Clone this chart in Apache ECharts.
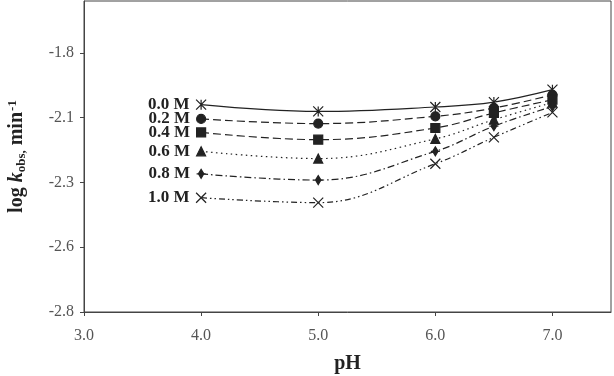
<!DOCTYPE html>
<html lang="en">
<head>
<meta charset="UTF-8">
<title>log kobs vs pH</title>
<script src="https://cdn.jsdelivr.net/npm/echarts@6/dist/echarts.min.js"></script>
<style>body{margin:0;background:#fff;}</style>
</head>
<body>
<div id="main" style="width:614px;height:376px;"></div>
<script type="text/javascript">
    // x positions (pH)
    var phValues = [4.0, 5.0, 6.0, 6.5, 7.0];
    // concentrations (series names)
    var seriesNames = ['0.0 M', '0.2 M', '0.4 M', '0.6 M', '0.8 M', '1.0 M'];
    // log kobs
    var m00 = [-2.000, -2.026, -2.009, -1.990, -1.942];
    var m02 = [-2.055, -2.073, -2.045, -2.013, -1.962];
    var m04 = [-2.107, -2.135, -2.090, -2.032, -1.981];
    var m06 = [-2.180, -2.208, -2.132, -2.058, -1.992];
    var m08 = [-2.267, -2.291, -2.180, -2.083, -2.007];
    var m10 = [-2.359, -2.378, -2.228, -2.126, -2.030];
    // tick values & labels
    var xTickValues = [3, 4, 5, 6, 7];
    var yTickValues = [-2.8, -2.55, -2.3, -2.05, -1.8];
    var yTickLabels = ['-2.8', '-2.6', '-2.3', '-2.1', '-1.8'];

    var allData = [m00, m02, m04, m06, m08, m10];
    var symbols = [
        'path://M0,0L10,10M10,0L0,10M5,0L5,10',
        'circle',
        'rect',
        'triangle',
        'path://M5,0L8,5L5,10L2,5ZM0,5L10,5',
        'path://M0,0L10,10M10,0L0,10'
    ];
    var symSizes = [10, 9, 9, 9, 9, 10];
    var lineTypes = ['solid', [8, 4], [8, 4], [1.5, 3.5], [7, 3, 1.5, 3], [6, 3, 1.5, 3, 1.5, 3]];

    var font = 'Liberation Serif';
    var myChart = echarts.init(document.getElementById('main'));

    var series = [];
    for (var i = 0; i < seriesNames.length; i++) {
        var pts = [];
        for (var j = 0; j < phValues.length; j++) {
            pts.push([phValues[j], allData[i][j]]);
        }
        series.push({
            name: seriesNames[i],
            type: 'line',
            data: pts,
            smooth: 0.4,
            symbol: symbols[i],
            symbolSize: symSizes[i],
            showAllSymbol: true,
            lineStyle: {color: '#222', width: 1.2, type: lineTypes[i]},
            itemStyle: {color: '#222', borderColor: '#222', borderWidth: 1.2},
            label: {
                show: true,
                position: 'left',
                distance: 6,
                fontFamily: font,
                fontWeight: 'bold',
                fontSize: 17,
                color: '#222',
                formatter: function (p) {
                    return p.dataIndex === 0 ? p.seriesName : '';
                }
            },
            animation: false
        });
    }

    myChart.setOption({
        backgroundColor: '#fff',
        grid: {left: 84, right: 3, top: 1, bottom: 64, outerBoundsMode: 'none', containLabel: false,
            show: true, borderColor: '#444', borderWidth: 1},
        xAxis: {
            type: 'value',
            min: 3.0,
            max: 7.5,
            name: 'pH',
            nameLocation: 'middle',
            nameGap: 42,
            nameTextStyle: {fontFamily: font, fontWeight: 'bold', fontSize: 20, color: '#222'},
            axisLine: {show: true, lineStyle: {color: '#444'}},
            axisTick: {show: true, inside: false, length: 4, customValues: xTickValues, lineStyle: {color: '#444'}},
            axisLabel: {
                customValues: xTickValues,
                fontFamily: font, fontSize: 16, color: '#555', margin: 16,
                formatter: function (v) { return v.toFixed(1); }
            },
            splitLine: {show: false}
        },
        yAxis: {
            type: 'value',
            min: -2.8,
            max: -1.6,
            name: '{b|log }{bi|k}{sub|obs,}{b| min}{sup|-1}',
            nameLocation: 'middle',
            nameGap: 56,
            nameRotate: 90,
            nameTextStyle: {
                color: '#222',
                rich: {
                    b: {fontFamily: font, fontWeight: 'bold', fontSize: 20, color: '#222'},
                    bi: {fontFamily: font, fontWeight: 'bold', fontStyle: 'italic', fontSize: 20, color: '#222'},
                    sub: {fontFamily: font, fontWeight: 'bold', fontSize: 13, color: '#222', verticalAlign: 'bottom', padding: [7, 0, 0, 0]},
                    sup: {fontFamily: font, fontWeight: 'bold', fontSize: 13, color: '#222', verticalAlign: 'top', padding: [0, 0, 9, 1]}
                }
            },
            axisLine: {show: true, lineStyle: {color: '#444'}},
            axisTick: {show: true, inside: false, length: 4, customValues: yTickValues, lineStyle: {color: '#444'}},
            axisLabel: {
                customValues: yTickValues,
                fontFamily: font, fontSize: 16, color: '#555', margin: 10,
                formatter: function (v) {
                    for (var k = 0; k < yTickValues.length; k++) {
                        if (Math.abs(yTickValues[k] - v) < 1e-6) return yTickLabels[k];
                    }
                    return '';
                }
            },
            splitLine: {show: false}
        },
        series: series
    });
</script>
</body>
</html>
